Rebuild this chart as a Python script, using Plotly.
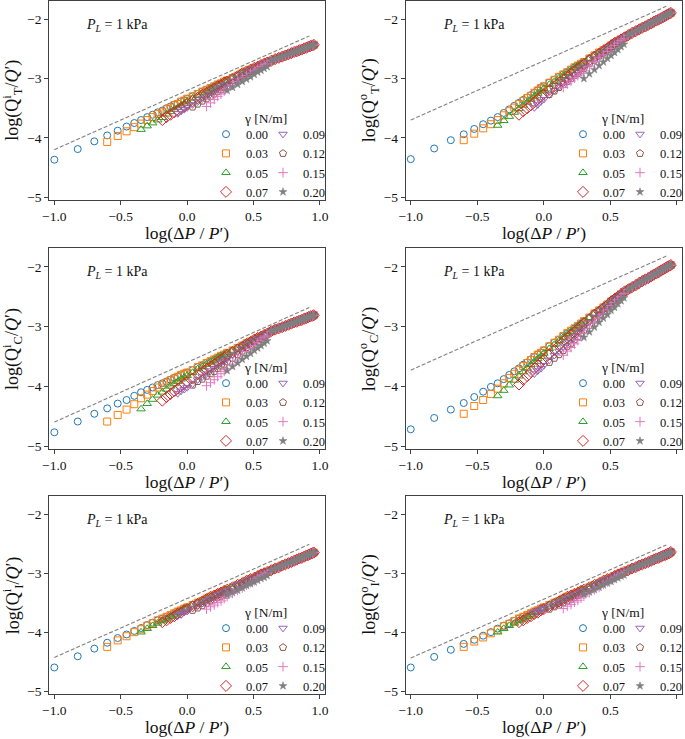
import plotly.graph_objects as go

FONT = "Liberation Serif"

# ---------------- data ----------------
# log(dP/P') grid; each series starts at a different pressure and runs to the end
X_HEAD = [-1.000, -0.824, -0.699, -0.602, -0.523, -0.456, -0.398, -0.347, -0.301, -0.260,
          -0.222, -0.187, -0.155, -0.125, -0.097, -0.071, -0.046, -0.022, 0.000, 0.041,
          0.079, 0.114, 0.146, 0.176, 0.204, 0.230, 0.255, 0.279, 0.301, 0.342,
          0.380, 0.415, 0.447, 0.477, 0.505, 0.531, 0.556, 0.580, 0.602]
X_TAIL = [0.633, 0.663, 0.690, 0.716, 0.740, 0.763, 0.785, 0.806, 0.826, 0.845,
          0.863, 0.881, 0.898, 0.914, 0.929, 0.944, 0.954]
GAMMAS = ["0.00", "0.03", "0.05", "0.07", "0.09", "0.12", "0.15", "0.20"]
DASH_X = [-1.0, 0.92]

# Panel A : log(Q_T^i/Q')
A_G00 = [-4.37, -4.19, -4.06, -3.96, -3.88, -3.81, -3.75, -3.70, -3.65, -3.61, -3.57, -3.54, -3.50, -3.47, -3.44, -3.42, -3.39, -3.37, -3.34, -3.30, -3.26, -3.22, -3.19, -3.16, -3.13, -3.10, -3.08, -3.05, -3.03, -2.99, -2.95, -2.91, -2.88, -2.85, -2.82, -2.80, -2.77, -2.75, -2.73]
A_G03 = [-4.07, -3.97, -3.89, -3.82, -3.76, -3.70, -3.65, -3.60, -3.57, -3.52, -3.49, -3.45, -3.43, -3.39, -3.37, -3.34, -3.30, -3.26, -3.22, -3.19, -3.16, -3.13, -3.10, -3.08, -3.05, -3.03, -2.99, -2.95, -2.91, -2.88, -2.85, -2.82, -2.80, -2.77, -2.75, -2.73]
A_G05 = [-3.86, -3.80, -3.75, -3.70, -3.66, -3.60, -3.56, -3.52, -3.49, -3.45, -3.42, -3.38, -3.33, -3.29, -3.24, -3.21, -3.17, -3.14, -3.11, -3.09, -3.06, -3.04, -2.99, -2.95, -2.91, -2.88, -2.85, -2.82, -2.80, -2.77, -2.75, -2.73]
A_G07 = [-3.70, -3.65, -3.61, -3.57, -3.54, -3.50, -3.47, -3.43, -3.38, -3.33, -3.28, -3.24, -3.20, -3.17, -3.13, -3.11, -3.07, -3.05, -3.00, -2.96, -2.91, -2.88, -2.85, -2.82, -2.80, -2.77, -2.75, -2.73]
A_G09 = [-3.59, -3.55, -3.52, -3.49, -3.44, -3.39, -3.34, -3.30, -3.26, -3.22, -3.18, -3.15, -3.12, -3.09, -3.04, -2.99, -2.94, -2.90, -2.87, -2.83, -2.81, -2.77, -2.75, -2.73]
A_G12 = [-3.48, -3.43, -3.38, -3.34, -3.30, -3.26, -3.22, -3.19, -3.15, -3.12, -3.07, -3.02, -2.96, -2.92, -2.88, -2.85, -2.82, -2.78, -2.76, -2.73]
A_G15 = [-3.47, -3.41, -3.35, -3.30, -3.26, -3.21, -3.17, -3.11, -3.05, -2.99, -2.95, -2.91, -2.87, -2.84, -2.80, -2.77, -2.75]
A_G20 = [-3.20, -3.15, -3.10, -3.05, -3.01, -2.97, -2.93, -2.89, -2.86, -2.83, -2.80]
A_TAIL = [-2.70, -2.67, -2.65, -2.63, -2.61, -2.59, -2.57, -2.55, -2.54, -2.52, -2.51, -2.49, -2.48, -2.46, -2.45, -2.44, -2.43]
A_DASH = [-4.20, -2.28]

# Panel B : log(Q_T^o/Q')
B_G00 = [-4.36, -4.18, -4.04, -3.94, -3.85, -3.77, -3.71, -3.65, -3.58, -3.52, -3.46, -3.41, -3.36, -3.32, -3.28, -3.24, -3.20, -3.16, -3.13, -3.07, -3.02, -2.97, -2.93, -2.89, -2.85, -2.81, -2.78, -2.75, -2.72, -2.66, -2.61, -2.56, -2.52, -2.48, -2.44, -2.40, -2.37, -2.34, -2.31]
B_G03 = [-4.04, -3.93, -3.84, -3.77, -3.70, -3.62, -3.55, -3.49, -3.43, -3.38, -3.33, -3.29, -3.24, -3.20, -3.16, -3.13, -3.07, -3.02, -2.97, -2.93, -2.89, -2.85, -2.81, -2.78, -2.75, -2.72, -2.66, -2.61, -2.56, -2.52, -2.48, -2.44, -2.40, -2.37, -2.34, -2.31]
B_G05 = [-3.79, -3.71, -3.64, -3.57, -3.51, -3.45, -3.40, -3.35, -3.30, -3.25, -3.21, -3.17, -3.10, -3.05, -2.99, -2.95, -2.90, -2.86, -2.81, -2.78, -2.75, -2.72, -2.66, -2.61, -2.56, -2.52, -2.48, -2.44, -2.40, -2.37, -2.34, -2.31]
B_G07 = [-3.61, -3.55, -3.50, -3.45, -3.40, -3.35, -3.30, -3.26, -3.19, -3.13, -3.07, -3.02, -2.97, -2.92, -2.87, -2.83, -2.79, -2.76, -2.69, -2.63, -2.58, -2.53, -2.49, -2.44, -2.40, -2.37, -2.34, -2.31]
B_G09 = [-3.49, -3.44, -3.39, -3.35, -3.27, -3.20, -3.14, -3.08, -3.03, -2.98, -2.93, -2.89, -2.85, -2.81, -2.73, -2.67, -2.61, -2.56, -2.51, -2.46, -2.41, -2.38, -2.34, -2.31]
B_G12 = [-3.27, -3.21, -3.15, -3.10, -3.05, -3.00, -2.95, -2.91, -2.87, -2.83, -2.75, -2.69, -2.62, -2.57, -2.52, -2.47, -2.42, -2.38, -2.35, -2.31]
B_G15 = [-3.15, -3.09, -3.04, -2.99, -2.95, -2.91, -2.87, -2.79, -2.72, -2.65, -2.60, -2.54, -2.49, -2.44, -2.40, -2.36, -2.33]
B_G20 = [-3.00, -2.92, -2.85, -2.78, -2.72, -2.66, -2.61, -2.56, -2.51, -2.46, -2.42]
B_TAIL = [-2.27, -2.23, -2.20, -2.17, -2.14, -2.12, -2.09, -2.07, -2.04, -2.02, -2.00, -1.98, -1.96, -1.94, -1.92, -1.90, -1.89]
B_DASH = [-3.70, -1.78]

# Panel C : log(Q_C^i/Q')
C_G00 = [-4.77, -4.59, -4.46, -4.37, -4.29, -4.23, -4.16, -4.10, -4.06, -4.02, -3.98, -3.95, -3.92, -3.89, -3.86, -3.84, -3.81, -3.79, -3.77, -3.73, -3.68, -3.65, -3.61, -3.58, -3.55, -3.52, -3.49, -3.47, -3.44, -3.40, -3.36, -3.32, -3.28, -3.25, -3.22, -3.19, -3.17, -3.14, -3.12]
C_G03 = [-4.59, -4.48, -4.39, -4.30, -4.20, -4.14, -4.08, -4.02, -3.98, -3.94, -3.90, -3.87, -3.84, -3.81, -3.79, -3.77, -3.73, -3.68, -3.65, -3.61, -3.58, -3.55, -3.52, -3.49, -3.47, -3.44, -3.40, -3.36, -3.32, -3.28, -3.25, -3.22, -3.19, -3.17, -3.14, -3.12]
C_G05 = [-4.38, -4.29, -4.22, -4.15, -4.10, -4.05, -4.00, -3.96, -3.92, -3.88, -3.85, -3.82, -3.77, -3.71, -3.67, -3.63, -3.59, -3.56, -3.52, -3.49, -3.47, -3.44, -3.40, -3.36, -3.32, -3.28, -3.25, -3.22, -3.19, -3.17, -3.14, -3.12]
C_G07 = [-4.24, -4.18, -4.13, -4.08, -4.04, -4.00, -3.96, -3.93, -3.87, -3.80, -3.76, -3.71, -3.67, -3.63, -3.59, -3.55, -3.52, -3.48, -3.43, -3.38, -3.34, -3.29, -3.26, -3.22, -3.19, -3.17, -3.14, -3.12]
C_G09 = [-4.12, -4.08, -4.05, -4.02, -3.96, -3.89, -3.84, -3.79, -3.74, -3.70, -3.66, -3.61, -3.58, -3.54, -3.48, -3.43, -3.37, -3.32, -3.28, -3.24, -3.20, -3.18, -3.14, -3.12]
C_G12 = [-3.98, -3.92, -3.88, -3.83, -3.79, -3.75, -3.70, -3.66, -3.63, -3.59, -3.53, -3.47, -3.41, -3.35, -3.31, -3.26, -3.22, -3.19, -3.15, -3.13]
C_G15 = [-3.99, -3.94, -3.89, -3.84, -3.79, -3.75, -3.70, -3.63, -3.56, -3.49, -3.42, -3.37, -3.32, -3.27, -3.23, -3.19, -3.16]
C_G20 = [-3.74, -3.67, -3.61, -3.55, -3.50, -3.45, -3.40, -3.36, -3.32, -3.28, -3.24]
C_TAIL = [-3.08, -3.05, -3.03, -3.01, -2.99, -2.97, -2.95, -2.93, -2.92, -2.90, -2.89, -2.87, -2.86, -2.84, -2.83, -2.82, -2.81]
C_DASH = [-4.60, -2.68]

# Panel D : log(Q_C^o/Q')
D_G00 = [-4.72, -4.53, -4.39, -4.28, -4.18, -4.09, -4.01, -3.95, -3.88, -3.81, -3.75, -3.70, -3.64, -3.60, -3.55, -3.51, -3.47, -3.44, -3.40, -3.33, -3.27, -3.22, -3.16, -3.11, -3.07, -3.03, -2.99, -2.95, -2.91, -2.85, -2.78, -2.73, -2.68, -2.63, -2.58, -2.54, -2.50, -2.46, -2.42]
D_G03 = [-4.46, -4.33, -4.23, -4.13, -4.04, -3.95, -3.86, -3.79, -3.73, -3.66, -3.61, -3.56, -3.51, -3.47, -3.44, -3.40, -3.33, -3.27, -3.22, -3.16, -3.11, -3.07, -3.03, -2.99, -2.95, -2.91, -2.85, -2.78, -2.73, -2.68, -2.63, -2.58, -2.54, -2.50, -2.46, -2.42]
D_G05 = [-4.16, -4.07, -3.98, -3.90, -3.83, -3.76, -3.70, -3.64, -3.59, -3.54, -3.50, -3.45, -3.37, -3.30, -3.24, -3.18, -3.12, -3.08, -3.03, -2.99, -2.95, -2.91, -2.85, -2.78, -2.73, -2.68, -2.63, -2.58, -2.54, -2.50, -2.46, -2.42]
D_G07 = [-3.97, -3.89, -3.83, -3.76, -3.70, -3.65, -3.60, -3.55, -3.46, -3.39, -3.32, -3.25, -3.19, -3.14, -3.09, -3.04, -2.99, -2.95, -2.88, -2.80, -2.75, -2.69, -2.64, -2.58, -2.54, -2.50, -2.46, -2.42]
D_G09 = [-3.79, -3.74, -3.70, -3.65, -3.56, -3.48, -3.41, -3.34, -3.27, -3.22, -3.17, -3.11, -3.06, -3.01, -2.93, -2.85, -2.78, -2.72, -2.66, -2.60, -2.55, -2.51, -2.46, -2.42]
D_G12 = [-3.60, -3.53, -3.47, -3.40, -3.33, -3.28, -3.22, -3.17, -3.11, -3.06, -2.98, -2.89, -2.82, -2.75, -2.69, -2.62, -2.57, -2.52, -2.47, -2.43]
D_G15 = [-3.48, -3.41, -3.35, -3.29, -3.23, -3.17, -3.12, -3.03, -2.94, -2.86, -2.79, -2.72, -2.65, -2.60, -2.55, -2.50, -2.45]
D_G20 = [-3.18, -3.09, -3.01, -2.93, -2.86, -2.80, -2.73, -2.68, -2.62, -2.57, -2.52]
D_TAIL = [-2.38, -2.34, -2.31, -2.27, -2.24, -2.21, -2.19, -2.16, -2.13, -2.11, -2.09, -2.06, -2.04, -2.02, -2.00, -1.98, -1.97]
D_DASH = [-3.73, -1.82]

# Panel E : log(Q_I^i/Q')
E_G00 = [-4.60, -4.41, -4.28, -4.18, -4.10, -4.04, -3.98, -3.93, -3.88, -3.84, -3.80, -3.77, -3.74, -3.71, -3.68, -3.65, -3.63, -3.60, -3.58, -3.54, -3.50, -3.47, -3.43, -3.40, -3.38, -3.35, -3.33, -3.30, -3.28, -3.24, -3.20, -3.17, -3.13, -3.10, -3.08, -3.05, -3.02, -3.00, -2.98]
E_G03 = [-4.25, -4.14, -4.07, -4.00, -3.95, -3.89, -3.85, -3.80, -3.77, -3.74, -3.71, -3.68, -3.65, -3.63, -3.60, -3.58, -3.54, -3.50, -3.47, -3.43, -3.40, -3.38, -3.35, -3.33, -3.30, -3.28, -3.24, -3.20, -3.17, -3.13, -3.10, -3.08, -3.05, -3.02, -3.00, -2.98]
E_G05 = [-4.00, -3.94, -3.89, -3.85, -3.81, -3.78, -3.74, -3.71, -3.67, -3.65, -3.61, -3.59, -3.54, -3.50, -3.47, -3.43, -3.40, -3.38, -3.35, -3.33, -3.30, -3.28, -3.24, -3.20, -3.17, -3.13, -3.10, -3.08, -3.05, -3.02, -3.00, -2.98]
E_G07 = [-3.83, -3.80, -3.76, -3.73, -3.69, -3.67, -3.63, -3.61, -3.56, -3.52, -3.48, -3.44, -3.40, -3.38, -3.35, -3.33, -3.30, -3.28, -3.24, -3.20, -3.17, -3.13, -3.10, -3.08, -3.05, -3.02, -3.00, -2.98]
E_G09 = [-3.72, -3.70, -3.66, -3.64, -3.59, -3.55, -3.51, -3.47, -3.43, -3.41, -3.37, -3.35, -3.32, -3.29, -3.25, -3.20, -3.17, -3.13, -3.10, -3.08, -3.05, -3.02, -3.00, -2.98]
E_G12 = [-3.63, -3.59, -3.55, -3.51, -3.47, -3.45, -3.41, -3.39, -3.35, -3.33, -3.28, -3.23, -3.20, -3.15, -3.12, -3.09, -3.06, -3.02, -3.00, -2.98]
E_G15 = [-3.61, -3.57, -3.54, -3.50, -3.47, -3.43, -3.40, -3.34, -3.29, -3.25, -3.20, -3.16, -3.13, -3.09, -3.05, -3.03, -3.00]
E_G20 = [-3.37, -3.33, -3.29, -3.25, -3.21, -3.18, -3.15, -3.12, -3.09, -3.07, -3.04]
E_TAIL = [-2.95, -2.92, -2.90, -2.87, -2.85, -2.83, -2.81, -2.79, -2.77, -2.75, -2.74, -2.72, -2.70, -2.69, -2.67, -2.66, -2.65]
E_DASH = [-4.43, -2.51]

# Panel F : log(Q_I^o/Q')
F_G00 = [-4.60, -4.42, -4.30, -4.20, -4.13, -4.06, -4.00, -3.94, -3.89, -3.85, -3.81, -3.77, -3.74, -3.71, -3.68, -3.65, -3.63, -3.60, -3.58, -3.54, -3.50, -3.47, -3.43, -3.40, -3.38, -3.35, -3.33, -3.30, -3.28, -3.24, -3.20, -3.17, -3.13, -3.10, -3.08, -3.05, -3.02, -3.00, -2.98]
F_G03 = [-4.25, -4.16, -4.09, -4.02, -3.96, -3.90, -3.86, -3.81, -3.77, -3.74, -3.71, -3.68, -3.65, -3.63, -3.60, -3.58, -3.54, -3.50, -3.47, -3.43, -3.40, -3.38, -3.35, -3.33, -3.30, -3.28, -3.24, -3.20, -3.17, -3.13, -3.10, -3.08, -3.05, -3.02, -3.00, -2.98]
F_G05 = [-4.00, -3.94, -3.89, -3.85, -3.81, -3.78, -3.74, -3.71, -3.67, -3.65, -3.61, -3.59, -3.54, -3.50, -3.47, -3.43, -3.40, -3.38, -3.35, -3.33, -3.30, -3.28, -3.24, -3.20, -3.17, -3.13, -3.10, -3.08, -3.05, -3.02, -3.00, -2.98]
F_G07 = [-3.83, -3.80, -3.76, -3.73, -3.69, -3.67, -3.63, -3.61, -3.56, -3.52, -3.48, -3.44, -3.40, -3.38, -3.35, -3.33, -3.30, -3.28, -3.24, -3.20, -3.17, -3.13, -3.10, -3.08, -3.05, -3.02, -3.00, -2.98]
F_G09 = [-3.67, -3.65, -3.62, -3.60, -3.56, -3.52, -3.49, -3.45, -3.42, -3.40, -3.37, -3.35, -3.32, -3.30, -3.25, -3.21, -3.17, -3.13, -3.10, -3.08, -3.05, -3.02, -3.00, -2.98]
F_G12 = [-3.61, -3.57, -3.54, -3.50, -3.47, -3.44, -3.41, -3.38, -3.35, -3.33, -3.28, -3.23, -3.20, -3.15, -3.12, -3.09, -3.06, -3.02, -3.00, -2.98]
F_G15 = [-3.60, -3.56, -3.53, -3.49, -3.46, -3.42, -3.39, -3.33, -3.28, -3.24, -3.19, -3.15, -3.12, -3.08, -3.05, -3.02, -3.00]
F_G20 = [-3.36, -3.32, -3.28, -3.24, -3.20, -3.17, -3.14, -3.11, -3.08, -3.05, -3.03]
F_TAIL = [-2.95, -2.92, -2.90, -2.87, -2.85, -2.83, -2.81, -2.79, -2.77, -2.75, -2.74, -2.72, -2.70, -2.69, -2.67, -2.66, -2.64]
F_DASH = [-4.44, -2.52]

X_TICKS = [-1.0, -0.5, 0.0, 0.5, 1.0]
Y_TICKS = [-5, -4, -3, -2]

PANELS = [
    dict(heads=[A_G00, A_G03, A_G05, A_G07, A_G09, A_G12, A_G15, A_G20], tail=A_TAIL, dash=A_DASH,
         ylab="log(Q<sup>i</sup><sub>T</sub>/<i>Q</i>′)"),
    dict(heads=[B_G00, B_G03, B_G05, B_G07, B_G09, B_G12, B_G15, B_G20], tail=B_TAIL, dash=B_DASH,
         ylab="log(Q<sup>o</sup><sub>T</sub>/<i>Q</i>′)"),
    dict(heads=[C_G00, C_G03, C_G05, C_G07, C_G09, C_G12, C_G15, C_G20], tail=C_TAIL, dash=C_DASH,
         ylab="log(Q<sup>i</sup><sub>C</sub>/<i>Q</i>′)"),
    dict(heads=[D_G00, D_G03, D_G05, D_G07, D_G09, D_G12, D_G15, D_G20], tail=D_TAIL, dash=D_DASH,
         ylab="log(Q<sup>o</sup><sub>C</sub>/<i>Q</i>′)"),
    dict(heads=[E_G00, E_G03, E_G05, E_G07, E_G09, E_G12, E_G15, E_G20], tail=E_TAIL, dash=E_DASH,
         ylab="log(Q<sup>i</sup><sub>I</sub>/<i>Q</i>′)"),
    dict(heads=[F_G00, F_G03, F_G05, F_G07, F_G09, F_G12, F_G15, F_G20], tail=F_TAIL, dash=F_DASH,
         ylab="log(Q<sup>o</sup><sub>I</sub>/<i>Q</i>′)"),
]

# ---------------- styling ----------------
COLORS = ["#1f77b4", "#ff7f0e", "#2ca02c", "#d62728", "#9467bd", "#8c564b", "#e377c2", "#7f7f7f"]
SYMBOLS = ["circle-open", "square-open", "triangle-up-open", "diamond-open",
           "triangle-down-open", "pentagon-open", "cross-thin-open", "star"]
SIZES = [7, 7, 7.5, 8.5, 7.5, 7.5, 7, 6]

W, H = 685, 739
COL_L = [49.3, 405.7]
COL_R = [325.0, 682.0]
ROW_T = [1.0, 248.3, 496.0]
ROW_B = [200.0, 449.0, 694.0]
XR = [-1.038, 1.038]
YR = [-5.05, -1.69]

fig = go.Figure()
layout = dict(width=W, height=H, margin=dict(l=0, r=0, t=0, b=0, autoexpand=False),
              paper_bgcolor="white", plot_bgcolor="white", showlegend=True,
              font=dict(family=FONT, color="#111"))
annotations = []

for i, p in enumerate(PANELS):
    r, c = divmod(i, 2)
    k = i + 1
    xa = "x" if k == 1 else f"x{k}"
    ya = "y" if k == 1 else f"y{k}"
    L, R, T, B = COL_L[c], COL_R[c], ROW_T[r], ROW_B[r]
    axis_common = dict(showline=True, mirror=True, linecolor="#404040", linewidth=1,
                       ticks="outside", ticklen=4, tickwidth=1, tickcolor="#404040",
                       showgrid=False, zeroline=False,
                       tickfont=dict(family=FONT, size=13.5, color="#111"))
    layout["xaxis" if k == 1 else f"xaxis{k}"] = dict(
        domain=[L / W, R / W], anchor=ya, range=XR, tickvals=X_TICKS, tickformat=".1f", **axis_common)
    layout["yaxis" if k == 1 else f"yaxis{k}"] = dict(
        domain=[1 - B / H, 1 - T / H], anchor=xa, range=YR, tickvals=Y_TICKS, tickformat="d", **axis_common)

    fig.add_trace(go.Scatter(x=DASH_X, y=p["dash"], mode="lines", xaxis=xa, yaxis=ya,
                             line=dict(color="#808080", width=1.1, dash="4px,2px"),
                             showlegend=False, hoverinfo="skip"))
    leg1 = "legend" if i == 0 else f"legend{2 * i + 1}"
    leg2 = f"legend{2 * i + 2}"
    for g, head in enumerate(p["heads"]):
        n = len(head)
        xs = X_HEAD[len(X_HEAD) - n:] + X_TAIL
        ys = head + p["tail"]
        col = COLORS[g]
        fig.add_trace(go.Scatter(
            x=xs, y=ys, mode="markers", name=GAMMAS[g], xaxis=xa, yaxis=ya,
            legend=leg1 if g < 4 else leg2,
            marker=dict(symbol=SYMBOLS[g], size=SIZES[g], color=col,
                        line=dict(color=col, width=1 if g < 7 else 0.5))))

    for j, leg in enumerate([leg1, leg2]):
        mx = R - 99 + 57 * j
        layout[leg] = dict(x=(mx - 20) / W, y=1 - (B - 66 - 14.5) / H, xanchor="left", yanchor="top",
                           bgcolor="rgba(0,0,0,0)", borderwidth=0, tracegroupgap=0,
                           font=dict(family=FONT, size=12.5, color="#111"))
    annotations.append(dict(text="γ [N/m]", x=(R - 60) / W, y=1 - (B - 82) / H, xref="paper", yref="paper",
                            showarrow=False, xanchor="center", yanchor="middle",
                            font=dict(family=FONT, size=13.5, color="#111")))
    annotations.append(dict(text="<i>P</i><sub><i>L</i></sub> = 1 kPa", x=(L + 35) / W, y=1 - (T + 24) / H,
                            xref="paper", yref="paper", showarrow=False, xanchor="left", yanchor="middle",
                            font=dict(family=FONT, size=14, color="#111")))
    annotations.append(dict(text="log(Δ<i>P</i> / <i>P</i>′)", x=(L + R) / 2 / W, y=1 - (B + 33) / H,
                            xref="paper", yref="paper", showarrow=False, xanchor="center", yanchor="middle",
                            font=dict(family=FONT, size=17.5, color="#111")))
    annotations.append(dict(text=p["ylab"], x=(L - 37) / W, y=1 - (T + B) / 2 / H, textangle=-90,
                            xref="paper", yref="paper", showarrow=False, xanchor="center", yanchor="middle",
                            font=dict(family=FONT, size=18, color="#111")))

layout["annotations"] = annotations
fig.update_layout(**layout)
fig.write_html("out.html", config={"displayModeBar": False},
               post_script="document.body.style.margin='0';document.body.style.overflow='hidden';")
